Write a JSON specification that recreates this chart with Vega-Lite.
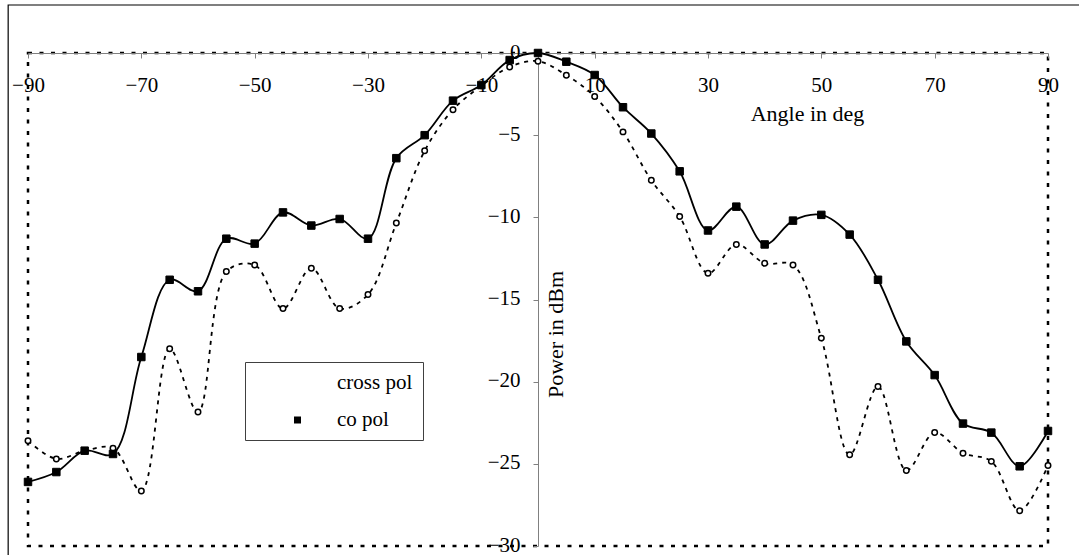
{
  "$schema": "https://vega.github.io/schema/vega-lite/v6.json",
  "width": 1020,
  "height": 493,
  "autosize": {"type": "none"},
  "padding": {"left": 28, "top": 53, "right": 31, "bottom": 9},
  "background": "white",
  "config": {
    "font": "Liberation Serif",
    "view": {"stroke": "black", "strokeWidth": 2.5, "strokeDash": [4, 7.5]},
    "axis": {
      "grid": false,
      "domainColor": "#808080",
      "tickColor": "#808080",
      "labelColor": "black",
      "labelFontSize": 21,
      "titleFontSize": 22,
      "titleFontWeight": "normal",
      "titleColor": "black",
      "labelFont": "Liberation Serif",
      "titleFont": "Liberation Serif",
      "tickSize": 5,
      "labelFlush": false,
      "labelOverlap": false,
      "labelBound": false
    }
  },
  "data": {
    "values": [
      {"angle": -90, "power": -23.6, "series": "cross pol"},
      {"angle": -85, "power": -24.7, "series": "cross pol"},
      {"angle": -80, "power": -24.2, "series": "cross pol"},
      {"angle": -75, "power": -24.05, "series": "cross pol"},
      {"angle": -70, "power": -26.65, "series": "cross pol"},
      {"angle": -65, "power": -18.0, "series": "cross pol"},
      {"angle": -60, "power": -21.85, "series": "cross pol"},
      {"angle": -55, "power": -13.3, "series": "cross pol"},
      {"angle": -50, "power": -12.9, "series": "cross pol"},
      {"angle": -45, "power": -15.55, "series": "cross pol"},
      {"angle": -40, "power": -13.1, "series": "cross pol"},
      {"angle": -35, "power": -15.55, "series": "cross pol"},
      {"angle": -30, "power": -14.7, "series": "cross pol"},
      {"angle": -25, "power": -10.35, "series": "cross pol"},
      {"angle": -20, "power": -5.95, "series": "cross pol"},
      {"angle": -15, "power": -3.45, "series": "cross pol"},
      {"angle": -10, "power": -2.0, "series": "cross pol"},
      {"angle": -5, "power": -0.85, "series": "cross pol"},
      {"angle": 0, "power": -0.5, "series": "cross pol"},
      {"angle": 5, "power": -1.35, "series": "cross pol"},
      {"angle": 10, "power": -2.65, "series": "cross pol"},
      {"angle": 15, "power": -4.8, "series": "cross pol"},
      {"angle": 20, "power": -7.75, "series": "cross pol"},
      {"angle": 25, "power": -9.95, "series": "cross pol"},
      {"angle": 30, "power": -13.4, "series": "cross pol"},
      {"angle": 35, "power": -11.65, "series": "cross pol"},
      {"angle": 40, "power": -12.8, "series": "cross pol"},
      {"angle": 45, "power": -12.9, "series": "cross pol"},
      {"angle": 50, "power": -17.35, "series": "cross pol"},
      {"angle": 55, "power": -24.45, "series": "cross pol"},
      {"angle": 60, "power": -20.3, "series": "cross pol"},
      {"angle": 65, "power": -25.4, "series": "cross pol"},
      {"angle": 70, "power": -23.1, "series": "cross pol"},
      {"angle": 75, "power": -24.35, "series": "cross pol"},
      {"angle": 80, "power": -24.85, "series": "cross pol"},
      {"angle": 85, "power": -27.85, "series": "cross pol"},
      {"angle": 90, "power": -25.1, "series": "cross pol"},
      {"angle": -90, "power": -26.1, "series": "co pol"},
      {"angle": -85, "power": -25.5, "series": "co pol"},
      {"angle": -80, "power": -24.2, "series": "co pol"},
      {"angle": -75, "power": -24.4, "series": "co pol"},
      {"angle": -70, "power": -18.5, "series": "co pol"},
      {"angle": -65, "power": -13.8, "series": "co pol"},
      {"angle": -60, "power": -14.5, "series": "co pol"},
      {"angle": -55, "power": -11.3, "series": "co pol"},
      {"angle": -50, "power": -11.6, "series": "co pol"},
      {"angle": -45, "power": -9.7, "series": "co pol"},
      {"angle": -40, "power": -10.5, "series": "co pol"},
      {"angle": -35, "power": -10.1, "series": "co pol"},
      {"angle": -30, "power": -11.3, "series": "co pol"},
      {"angle": -25, "power": -6.4, "series": "co pol"},
      {"angle": -20, "power": -5.0, "series": "co pol"},
      {"angle": -15, "power": -2.9, "series": "co pol"},
      {"angle": -10, "power": -1.95, "series": "co pol"},
      {"angle": -5, "power": -0.43, "series": "co pol"},
      {"angle": 0, "power": 0, "series": "co pol"},
      {"angle": 5, "power": -0.53, "series": "co pol"},
      {"angle": 10, "power": -1.34, "series": "co pol"},
      {"angle": 15, "power": -3.3, "series": "co pol"},
      {"angle": 20, "power": -4.9, "series": "co pol"},
      {"angle": 25, "power": -7.2, "series": "co pol"},
      {"angle": 30, "power": -10.8, "series": "co pol"},
      {"angle": 35, "power": -9.35, "series": "co pol"},
      {"angle": 40, "power": -11.65, "series": "co pol"},
      {"angle": 45, "power": -10.2, "series": "co pol"},
      {"angle": 50, "power": -9.85, "series": "co pol"},
      {"angle": 55, "power": -11.05, "series": "co pol"},
      {"angle": 60, "power": -13.8, "series": "co pol"},
      {"angle": 65, "power": -17.55, "series": "co pol"},
      {"angle": 70, "power": -19.6, "series": "co pol"},
      {"angle": 75, "power": -22.55, "series": "co pol"},
      {"angle": 80, "power": -23.1, "series": "co pol"},
      {"angle": 85, "power": -25.15, "series": "co pol"},
      {"angle": 90, "power": -23.0, "series": "co pol"}
    ]
  },
  "layer": [
    {
      "transform": [{"filter": "datum.series === 'cross pol'"}],
      "mark": {"type": "line", "color": "black", "strokeWidth": 1.8, "strokeDash": [4, 5], "interpolate": "catmull-rom"},
      "encoding": {
        "x": {
          "field": "angle",
          "type": "quantitative",
          "scale": {"domain": [-90, 90], "nice": false, "zero": false},
          "axis": {
            "orient": "bottom",
            "offset": -493,
            "values": [-90, -70, -50, -30, -10, 10, 30, 50, 70, 90],
            "labelPadding": 16.6,
            "labelAngle": 0,
            "labelAlign": "center",
            "labelBaseline": "top",
            "title": "Angle in deg",
            "titleX": 779,
            "titleY": 60,
            "titleAngle": 0,
            "titleAlign": "center",
            "titleBaseline": "middle"
          }
        },
        "y": {
          "field": "power",
          "type": "quantitative",
          "scale": {"domain": [-30, 0], "nice": false, "zero": false},
          "axis": {
            "orient": "left",
            "offset": -510,
            "values": [0, -5, -10, -15, -20, -25, -30],
            "labelPadding": 13,
            "labelOffset": -1,
            "labelAlign": "right",
            "labelBaseline": "middle",
            "title": "Power in dBm",
            "titleX": 7,
            "titleY": 281,
            "titleAngle": 270,
            "titleAlign": "center",
            "titleBaseline": "top"
          }
        }
      }
    },
    {
      "transform": [{"filter": "datum.series === 'cross pol'"}],
      "mark": {"type": "point", "filled": true, "stroke": "black", "strokeWidth": 1.5, "size": 30, "opacity": 1},
      "encoding": {
        "x": {"field": "angle", "type": "quantitative"},
        "y": {"field": "power", "type": "quantitative"},
        "fill": {
          "field": "series",
          "type": "nominal",
          "scale": {"domain": ["cross pol", "co pol"], "range": ["white", "black"]},
          "legend": {"title": null, "orient": "none", "legendX": 217, "legendY": 309}
        },
        "shape": {
          "field": "series",
          "type": "nominal",
          "scale": {"domain": ["cross pol", "co pol"], "range": ["circle", "square"]},
          "legend": {
            "title": null,
            "orient": "none",
            "legendX": 217,
            "legendY": 309,
            "padding": 10,
            "strokeColor": "#404040",
            "fillColor": "white",
            "symbolSize": 49,
            "symbolOffset": 32,
            "symbolStrokeWidth": 1.5,
            "symbolStrokeColor": "black",
            "symbolOpacity": 1,
            "labelOffset": 29,
            "rowPadding": 15.5,
            "labelFontSize": 21,
            "labelFont": "Liberation Serif",
            "labelColor": "black",
            "labelLimit": 300,
            "encode": {
              "symbols": {
                "stroke": {"value": "black"},
                "strokeWidth": {"value": 1.5}
              }
            }
          }
        }
      }
    },
    {
      "transform": [{"filter": "datum.series === 'co pol'"}],
      "mark": {"type": "line", "color": "black", "strokeWidth": 1.8, "interpolate": "catmull-rom"},
      "encoding": {
        "x": {"field": "angle", "type": "quantitative"},
        "y": {"field": "power", "type": "quantitative"}
      }
    },
    {
      "transform": [{"filter": "datum.series === 'co pol'"}],
      "mark": {"type": "point", "shape": "square", "filled": true, "fill": "black", "stroke": "black", "strokeWidth": 1, "size": 56, "opacity": 1},
      "encoding": {
        "x": {"field": "angle", "type": "quantitative"},
        "y": {"field": "power", "type": "quantitative"}
      }
    },
    {
      "data": {"values": [{}]},
      "mark": {"type": "rect", "filled": false, "color": "black", "strokeWidth": 1.2, "clip": false},
      "encoding": {
        "x": {"datum": -93.5, "type": "quantitative"},
        "x2": {"datum": 97},
        "y": {"datum": 2.92, "type": "quantitative"},
        "y2": {"datum": -31}
      }
    }
  ]
}
